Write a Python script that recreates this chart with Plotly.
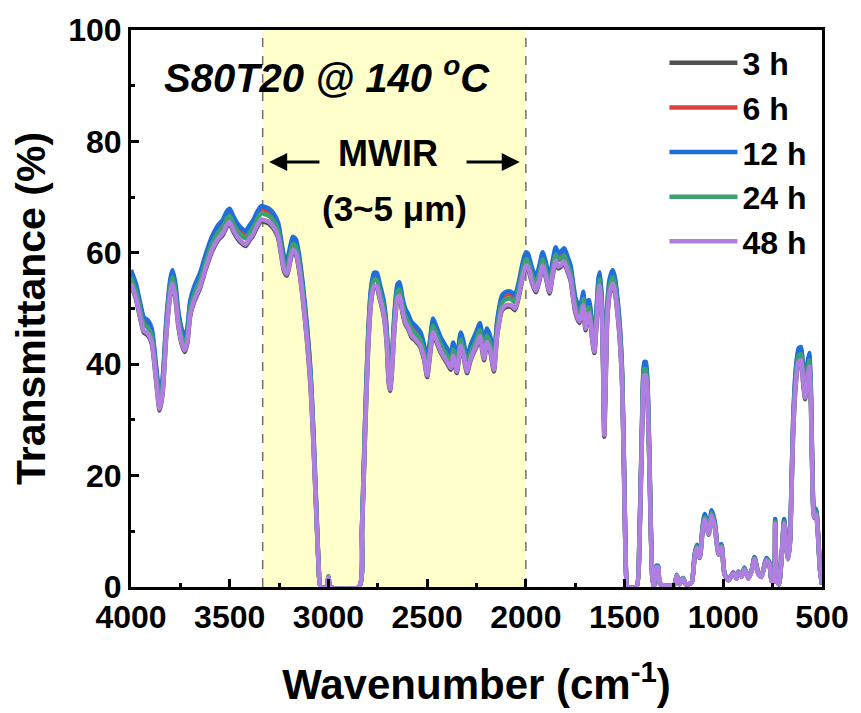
import plotly.graph_objects as go

# FTIR transmittance of S80T20 treated at 140 °C for different times
wavenumber = [
    4000, 3975, 3950, 3935, 3915, 3895, 3875, 3855, 3840, 3820,
    3800, 3790, 3775, 3760, 3740, 3728, 3715, 3700, 3680, 3650,
    3620, 3590, 3560, 3535, 3515, 3500, 3480, 3460, 3440, 3420,
    3400, 3380, 3360, 3340, 3320, 3300, 3275, 3255, 3240, 3225,
    3210, 3195, 3180, 3165, 3150, 3130, 3110, 3090, 3075, 3060,
    3050, 3040, 3010, 3000, 2990, 2845, 2830, 2815, 2800, 2785,
    2770, 2755, 2740, 2720, 2705, 2695, 2688, 2680, 2665, 2650,
    2640, 2625, 2610, 2595, 2580, 2560, 2535, 2515, 2500, 2485,
    2470, 2455, 2430, 2400, 2380, 2368, 2350, 2330, 2315, 2298,
    2280, 2250, 2233, 2212, 2197, 2180, 2162, 2145, 2120, 2100,
    2075, 2055, 2035, 2015, 2000, 1990, 1970, 1950, 1930, 1915,
    1900, 1880, 1865, 1849, 1835, 1825, 1805, 1790, 1774, 1760,
    1749, 1729, 1715, 1709, 1698, 1685, 1679, 1665, 1653, 1643,
    1632, 1625, 1615, 1608, 1603, 1595, 1588, 1575, 1560, 1548,
    1535, 1525, 1512, 1500, 1492, 1485, 1440, 1425, 1410, 1400,
    1392, 1380, 1370, 1360, 1352, 1340, 1330, 1320, 1250, 1235,
    1222, 1212, 1203, 1190, 1175, 1160, 1145, 1134, 1119, 1105,
    1094, 1074, 1059, 1044, 1024, 1009, 994, 974, 949, 933,
    923, 908, 893, 873, 855, 842, 822, 807, 782, 767,
    755, 745, 737, 728, 718, 705, 692, 682, 672, 662,
    656, 646, 632, 618, 606, 596, 585, 575, 565, 556,
    548, 540, 530, 520, 510, 500,
]

t_3h = [
    54.2, 51.7, 47.7, 45.7, 45.2, 43.7, 37.7, 31.7, 34.7, 45.7,
    52.7, 54.2, 51.7, 46.7, 43.2, 42.2, 43.7, 48.7, 51.2, 53.7,
    57.2, 60.2, 62.2, 63.2, 64.7, 65.2, 63.7, 62.5, 61.7, 61.2,
    62.2, 63.2, 64.7, 65.7, 65.5, 65.2, 64.2, 62.7, 59.7, 56.7,
    55.9, 58.2, 60.2, 59.7, 57.2, 51.7, 44.7, 35.7, 24.8, 11.9,
    4.0, 0, 0, 1.8, 0, 0, 9.9, 26.7, 41.7, 50.7,
    53.7, 53.7, 51.7, 48.7, 43.7, 36.7, 35.2, 37.7, 46.7, 51.7,
    52.0, 49.2, 47.2, 46.2, 44.9, 44.2, 43.1, 40.7, 37.7, 41.7,
    45.5, 44.2, 42.0, 40.2, 39.0, 41.2, 38.4, 43.0, 41.2, 38.4,
    40.7, 43.2, 44.7, 40.7, 43.7, 42.2, 38.7, 45.2, 49.7, 50.3,
    50.3, 49.7, 52.2, 55.7, 57.4, 57.2, 54.7, 52.9, 55.2, 57.4,
    55.7, 52.7, 55.7, 58.3, 57.2, 57.4, 58.1, 56.7, 55.1, 51.7,
    49.2, 47.4, 49.2, 50.3, 46.1, 48.7, 48.8, 44.7, 42.0, 46.7,
    52.7, 53.8, 48.7, 37.7, 27.0, 37.7, 47.7, 52.7, 54.2, 52.7,
    48.7, 44.7, 35.7, 14.9, 2.0, 0, 0, 7.9, 29.7, 37.7,
    37.7, 29.7, 14.9, 2.0, 0, 3.5, 3.5, 0.5, 0.3, 2.0,
    0.5, 1.2, 1.5, 0.5, 0.5, 0.8, 5.4, 6.9, 5.2, 9.9,
    12.0, 9.4, 12.7, 10.9, 5.8, 7.0, 2.3, 1.2, 2.4, 1.5,
    2.6, 1.8, 3.2, 1.5, 3.0, 5.0, 2.3, 1.8, 4.8, 4.2,
    1.0, 1.0, 11.2, 1.0, 0.5, 5.0, 11.2, 7.9, 5.0, 7.9,
    14.9, 27.7, 36.7, 40.2, 40.4, 36.7, 33.7, 37.2, 39.3, 32.7,
    17.8, 12.4, 12.9, 8.9, 3.0, 0.5,
]

t_6h = [
    56.4, 53.9, 49.9, 47.9, 47.4, 45.9, 39.9, 33.9, 36.9, 47.9,
    54.9, 56.4, 53.9, 48.9, 45.4, 44.4, 45.9, 50.9, 53.4, 55.9,
    59.4, 62.4, 64.4, 65.4, 66.9, 67.4, 65.9, 64.7, 63.9, 63.4,
    64.4, 65.4, 66.9, 67.9, 67.7, 67.4, 66.4, 64.9, 61.9, 58.9,
    58.1, 60.4, 62.4, 61.9, 59.4, 53.9, 46.9, 37.9, 26.6, 12.8,
    4.3, 0, 0, 1.9, 0, 0, 10.6, 28.7, 43.9, 52.9,
    55.9, 55.9, 53.9, 50.9, 45.9, 38.9, 37.4, 39.9, 48.9, 53.9,
    54.2, 51.4, 49.4, 48.4, 47.1, 46.4, 45.3, 42.9, 39.9, 43.9,
    47.7, 46.4, 44.2, 42.4, 41.2, 43.4, 40.6, 45.2, 43.4, 40.6,
    42.9, 45.4, 46.9, 42.9, 45.9, 44.4, 40.9, 47.4, 51.9, 52.5,
    52.5, 51.9, 54.4, 57.9, 59.6, 59.4, 56.9, 55.1, 57.4, 59.6,
    57.9, 54.9, 57.9, 60.5, 59.4, 59.6, 60.3, 58.9, 57.3, 53.9,
    51.4, 49.6, 51.4, 52.5, 48.3, 50.9, 51.0, 46.9, 44.2, 48.9,
    54.9, 56.0, 50.9, 39.9, 29.0, 39.9, 49.9, 54.9, 56.4, 54.9,
    50.9, 46.9, 37.9, 15.9, 2.1, 0, 0, 8.5, 31.9, 39.9,
    39.9, 31.9, 15.9, 2.1, 0, 3.7, 3.7, 0.5, 0.3, 2.1,
    0.5, 1.3, 1.6, 0.5, 0.5, 0.8, 5.8, 7.4, 5.6, 10.6,
    12.9, 10.1, 13.6, 11.7, 6.3, 7.5, 2.4, 1.3, 2.6, 1.6,
    2.8, 1.9, 3.4, 1.6, 3.2, 5.3, 2.4, 1.9, 5.1, 4.5,
    1.1, 1.1, 12.0, 1.1, 0.5, 5.3, 12.0, 8.5, 5.3, 8.5,
    15.9, 29.8, 38.9, 42.4, 42.6, 38.9, 35.9, 39.4, 41.5, 34.9,
    19.1, 13.3, 13.8, 9.6, 3.2, 0.5,
]

t_12h = [
    56.9, 54.4, 50.4, 48.4, 47.9, 46.4, 40.4, 34.4, 37.4, 48.4,
    55.4, 56.9, 54.4, 49.4, 45.9, 44.9, 46.4, 51.4, 53.9, 56.4,
    59.9, 62.9, 64.9, 65.9, 67.4, 67.9, 66.4, 65.2, 64.4, 63.9,
    64.9, 65.9, 67.4, 68.4, 68.2, 67.9, 66.9, 65.4, 62.4, 59.4,
    58.6, 60.9, 62.9, 62.4, 59.9, 54.4, 47.4, 38.4, 27.0, 13.0,
    4.3, 0, 0, 1.9, 0, 0, 10.8, 29.2, 44.4, 53.4,
    56.4, 56.4, 54.4, 51.4, 46.4, 39.4, 37.9, 40.4, 49.4, 54.4,
    54.7, 51.9, 49.9, 48.9, 47.6, 46.9, 45.8, 43.4, 40.4, 44.4,
    48.2, 46.9, 44.7, 42.9, 41.7, 43.9, 41.1, 45.7, 43.9, 41.1,
    43.4, 45.9, 47.4, 43.4, 46.4, 44.9, 41.4, 47.9, 52.4, 53.0,
    53.0, 52.4, 54.9, 58.4, 60.1, 59.9, 57.4, 55.6, 57.9, 60.1,
    58.4, 55.4, 58.4, 61.0, 59.9, 60.1, 60.8, 59.4, 57.8, 54.4,
    51.9, 50.1, 51.9, 53.0, 48.8, 51.4, 51.5, 47.4, 44.7, 49.4,
    55.4, 56.5, 51.4, 40.4, 29.5, 40.4, 50.4, 55.4, 56.9, 55.4,
    51.4, 47.4, 38.4, 16.2, 2.2, 0, 0, 8.6, 32.4, 40.4,
    40.4, 32.4, 16.2, 2.2, 0, 3.8, 3.8, 0.5, 0.3, 2.2,
    0.5, 1.3, 1.6, 0.5, 0.5, 0.8, 5.9, 7.6, 5.7, 10.8,
    13.1, 10.3, 13.8, 11.9, 6.4, 7.7, 2.5, 1.3, 2.6, 1.6,
    2.8, 1.9, 3.5, 1.6, 3.2, 5.4, 2.5, 1.9, 5.2, 4.5,
    1.1, 1.1, 12.2, 1.1, 0.5, 5.4, 12.2, 8.6, 5.4, 8.6,
    16.2, 30.2, 39.4, 42.9, 43.1, 39.4, 36.4, 39.9, 42.0, 35.4,
    19.4, 13.5, 14.0, 9.7, 3.2, 0.5,
]

t_24h = [
    55.6, 53.1, 49.1, 47.1, 46.6, 45.1, 39.1, 33.1, 36.1, 47.1,
    54.1, 55.6, 53.1, 48.1, 44.6, 43.6, 45.1, 50.1, 52.6, 55.1,
    58.6, 61.6, 63.6, 64.6, 66.1, 66.6, 65.1, 63.9, 63.1, 62.6,
    63.6, 64.6, 66.1, 67.1, 66.9, 66.6, 65.6, 64.1, 61.1, 58.1,
    57.3, 59.6, 61.6, 61.1, 58.6, 53.1, 46.1, 37.1, 25.9, 12.4,
    4.1, 0, 0, 1.9, 0, 0, 10.4, 28.0, 43.1, 52.1,
    55.1, 55.1, 53.1, 50.1, 45.1, 38.1, 36.6, 39.1, 48.1, 53.1,
    53.4, 50.6, 48.6, 47.6, 46.3, 45.6, 44.5, 42.1, 39.1, 43.1,
    46.9, 45.6, 43.4, 41.6, 40.4, 42.6, 39.8, 44.4, 42.6, 39.8,
    42.1, 44.6, 46.1, 42.1, 45.1, 43.6, 40.1, 46.6, 51.1, 51.7,
    51.7, 51.1, 53.6, 57.1, 58.8, 58.6, 56.1, 54.3, 56.6, 58.8,
    57.1, 54.1, 57.1, 59.7, 58.6, 58.8, 59.5, 58.1, 56.5, 53.1,
    50.6, 48.8, 50.6, 51.7, 47.5, 50.1, 50.2, 46.1, 43.4, 48.1,
    54.1, 55.2, 50.1, 39.1, 28.3, 39.1, 49.1, 54.1, 55.6, 54.1,
    50.1, 46.1, 37.1, 15.6, 2.1, 0, 0, 8.3, 31.1, 39.1,
    39.1, 31.1, 15.6, 2.1, 0, 3.6, 3.6, 0.5, 0.3, 2.1,
    0.5, 1.2, 1.6, 0.5, 0.5, 0.8, 5.7, 7.3, 5.5, 10.4,
    12.5, 9.8, 13.3, 11.4, 6.1, 7.4, 2.4, 1.2, 2.5, 1.6,
    2.7, 1.9, 3.3, 1.6, 3.1, 5.2, 2.4, 1.9, 5.0, 4.4,
    1.0, 1.0, 11.7, 1.0, 0.5, 5.2, 11.7, 8.3, 5.2, 8.3,
    15.6, 29.0, 38.1, 41.6, 41.8, 38.1, 35.1, 38.6, 40.7, 34.1,
    18.7, 13.0, 13.5, 9.3, 3.1, 0.5,
]

t_48h = [
    54.5, 52.0, 48.0, 46.0, 45.5, 44.0, 38.0, 32.0, 35.0, 46.0,
    53.0, 54.5, 52.0, 47.0, 43.5, 42.5, 44.0, 49.0, 51.5, 54.0,
    57.5, 60.5, 62.5, 63.5, 65.0, 65.5, 64.0, 62.8, 62.0, 61.5,
    62.5, 63.5, 65.0, 66.0, 65.8, 65.5, 64.5, 63.0, 60.0, 57.0,
    56.2, 58.5, 60.5, 60.0, 57.5, 52.0, 45.0, 36.0, 25.0, 12.0,
    4.0, 0, 0, 1.8, 0, 0, 10.0, 27.0, 42.0, 51.0,
    54.0, 54.0, 52.0, 49.0, 44.0, 37.0, 35.5, 38.0, 47.0, 52.0,
    52.3, 49.5, 47.5, 46.5, 45.2, 44.5, 43.4, 41.0, 38.0, 42.0,
    45.8, 44.5, 42.3, 40.5, 39.3, 41.5, 38.7, 43.3, 41.5, 38.7,
    41.0, 43.5, 45.0, 41.0, 44.0, 42.5, 39.0, 45.5, 50.0, 50.6,
    50.6, 50.0, 52.5, 56.0, 57.7, 57.5, 55.0, 53.2, 55.5, 57.7,
    56.0, 53.0, 56.0, 58.6, 57.5, 57.7, 58.4, 57.0, 55.4, 52.0,
    49.5, 47.7, 49.5, 50.6, 46.4, 49.0, 49.1, 45.0, 42.3, 47.0,
    53.0, 54.1, 49.0, 38.0, 27.3, 38.0, 48.0, 53.0, 54.5, 53.0,
    49.0, 45.0, 36.0, 15.0, 2.0, 0, 0, 8.0, 30.0, 38.0,
    38.0, 30.0, 15.0, 2.0, 0, 3.5, 3.5, 0.5, 0.3, 2.0,
    0.5, 1.2, 1.5, 0.5, 0.5, 0.8, 5.5, 7.0, 5.3, 10.0,
    12.1, 9.5, 12.8, 11.0, 5.9, 7.1, 2.3, 1.2, 2.4, 1.5,
    2.6, 1.8, 3.2, 1.5, 3.0, 5.0, 2.3, 1.8, 4.8, 4.2,
    1.0, 1.0, 11.3, 1.0, 0.5, 5.0, 11.3, 8.0, 5.0, 8.0,
    15.0, 28.0, 37.0, 40.5, 40.7, 37.0, 34.0, 37.5, 39.6, 33.0,
    18.0, 12.5, 13.0, 9.0, 3.0, 0.5,
]

series_names = ["3 h", "6 h", "12 h", "24 h", "48 h"]
series_values = [t_3h, t_6h, t_12h, t_24h, t_48h]
series_colors = ["#505050", "#DC4040", "#1E6FDC", "#3CA070", "#B07EE0"]

mwir_band = [3333, 2000]   # 3 µm and 5 µm expressed in cm-1

FONT = "Liberation Sans"

fig = go.Figure()
for name, vals, col in zip(series_names, series_values, series_colors):
    fig.add_trace(go.Scatter(
        x=wavenumber, y=vals, name=name, mode="lines",
        line=dict(color=col, width=4.5, shape="spline", smoothing=0.6),
    ))

# highlighted MWIR window with dashed boundaries
fig.add_shape(type="rect", xref="x", yref="y", x0=mwir_band[0], x1=mwir_band[1],
              y0=0, y1=100, fillcolor="#FFFFCC", line=dict(width=0), layer="below")
for xb in mwir_band:
    fig.add_shape(type="line", xref="x", yref="y", x0=xb, x1=xb, y0=0, y1=100,
                  line=dict(color="#707070", width=1.5, dash="dash"), layer="below")

fig.add_annotation(x=3845, y=92, xref="x", yref="y", xanchor="left", yanchor="middle",
                   text="S80T20 @ 140 <sup>o</sup>C", showarrow=False,
                   font=dict(family=FONT, size=40, color="black", weight="bold", style="italic"))
fig.add_annotation(x=2698, y=77.8, xref="x", yref="y", text="MWIR", showarrow=False,
                   font=dict(family=FONT, size=36, color="black", weight="bold"))
fig.add_annotation(x=2666, y=68, xref="x", yref="y", text="(3~5 μm)", showarrow=False,
                   font=dict(family=FONT, size=35, color="black", weight="bold"))
# arrows pointing to both band edges
fig.add_annotation(x=3300, y=76.3, ax=3038, ay=76.3, xref="x", yref="y", axref="x", ayref="y",
                   text="", showarrow=True, arrowhead=2, arrowsize=1.2, arrowwidth=3,
                   arrowcolor="black")
fig.add_annotation(x=2031, y=76.3, ax=2308, ay=76.3, xref="x", yref="y", axref="x", ayref="y",
                   text="", showarrow=True, arrowhead=2, arrowsize=1.2, arrowwidth=3,
                   arrowcolor="black")

axis_common = dict(
    showline=True, linewidth=3, linecolor="black", mirror=True,
    ticks="inside", ticklen=8, tickwidth=3, tickcolor="black",
    showgrid=False, zeroline=False,
    tickfont=dict(family=FONT, size=32, color="black", weight="bold"),
)

fig.update_xaxes(
    range=[4000, 500], tickvals=[4000, 3500, 3000, 2500, 2000, 1500, 1000, 500],
    minor=dict(dtick=250, ticks="inside", ticklen=4, tickwidth=2.5, tickcolor="black"),
    title=dict(text="Wavenumber (cm<sup>-1</sup>)", standoff=36,
               font=dict(family=FONT, size=42, color="black", weight="bold")),
    **axis_common,
)
fig.update_yaxes(
    range=[0, 100], tickvals=[0, 20, 40, 60, 80, 100],
    minor=dict(dtick=10, ticks="inside", ticklen=4, tickwidth=2.5, tickcolor="black"),
    title=dict(text="Transmittance (%)", standoff=10,
               font=dict(family=FONT, size=41, color="black", weight="bold")),
    **axis_common,
)

fig.update_layout(
    width=861, height=713,
    margin=dict(l=131, r=35, t=30, b=123),
    plot_bgcolor="white", paper_bgcolor="white",
    legend=dict(x=0.772, y=0.99, xanchor="left", yanchor="top",
                bgcolor="rgba(0,0,0,0)", itemwidth=68, tracegroupgap=0,
                font=dict(family=FONT, size=32, color="black", weight="bold")),
)

fig.write_html("out.html")
